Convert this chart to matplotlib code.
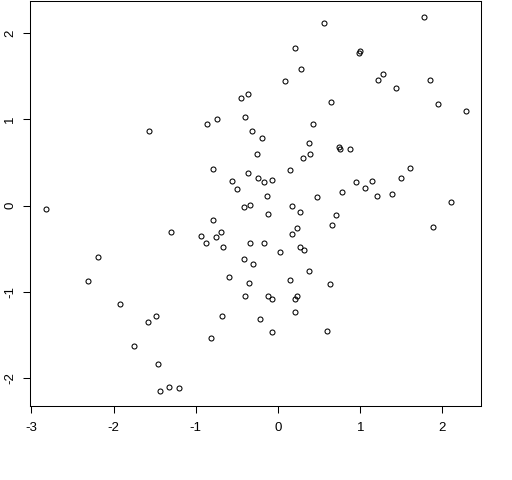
import matplotlib
matplotlib.use("Agg")
import matplotlib.pyplot as plt

# point values
x_vals = [-2.82, -2.19, -2.31, -1.92, -0.45, -0.36, -0.40, -0.86, -0.74, -1.57,
          -0.32, -0.79, -0.37, -0.56, -0.50, -0.41, -0.34, -0.79, -1.30, -0.94,
          -0.88, -0.75, -0.69, -0.34, -0.67, -0.42, -0.60, -0.35, -0.40, -1.48,
          -1.58, -0.68, -1.75, -0.81, -1.46, -1.44, -1.33, -1.21, 0.56, 0.21,
          0.99, 1.00, 0.28, 0.09, 0.65, 0.43, -0.20, 0.38, 0.74, 0.75,
          0.87, -0.26, 0.39, 0.30, 0.15, -0.24, -0.17, -0.07, 0.95, 0.78,
          1.06, 1.14, -0.13, 0.47, -0.12, 0.17, 0.27, 0.70, 0.66, 0.23,
          0.17, -0.17, 0.02, 0.27, 0.32, -0.30, 0.38, 0.15, 0.63, -0.12,
          -0.07, 0.21, 0.23, 0.21, -0.22, -0.07, 0.60, 1.77, 1.22, 1.28,
          1.85, 1.44, 1.94, 2.28, 1.60, 1.50, 1.20, 1.39, 2.10, 1.88]
y_vals = [-0.04, -0.60, -0.87, -1.14, 1.24, 1.29, 1.02, 0.95, 1.00, 0.86,
          0.86, 0.42, 0.38, 0.28, 0.19, -0.02, 0.01, -0.17, -0.31, -0.35,
          -0.43, -0.37, -0.31, -0.43, -0.48, -0.62, -0.83, -0.90, -1.05, -1.28,
          -1.35, -1.28, -1.63, -1.53, -1.84, -2.15, -2.10, -2.12, 2.11, 1.82,
          1.77, 1.79, 1.58, 1.44, 1.20, 0.95, 0.78, 0.73, 0.68, 0.66,
          0.65, 0.60, 0.60, 0.55, 0.41, 0.32, 0.27, 0.30, 0.27, 0.16,
          0.20, 0.28, 0.11, 0.10, -0.10, 0.00, -0.08, -0.11, -0.23, -0.26,
          -0.33, -0.43, -0.54, -0.48, -0.51, -0.68, -0.76, -0.86, -0.91, -1.05,
          -1.08, -1.08, -1.05, -1.23, -1.32, -1.46, -1.45, 2.19, 1.46, 1.52,
          1.46, 1.36, 1.18, 1.10, 0.44, 0.32, 0.11, 0.13, 0.04, -0.25]
x_ticks = [-3, -2, -1, 0, 1, 2]
y_ticks = [-2, -1, 0, 1, 2]

plt.rcParams['font.family'] = ['Liberation Sans', 'DejaVu Sans']
plt.rcParams['axes.unicode_minus'] = False

fig = plt.figure(figsize=(5.12, 4.8), dpi=100)
ax = fig.add_axes([0.0592, 0.1542, 0.881, 0.8427])

ax.plot(x_vals, y_vals, linestyle='none', marker='o', mfc='none',
        mec='black', ms=3.6, mew=0.75)

ax.set_xlim(-3.013, 2.473)
ax.set_ylim(-2.323, 2.364)
ax.set_xticks(x_ticks)
ax.set_yticks(y_ticks)

for sp in ax.spines.values():
    sp.set_linewidth(0.75)
    sp.set_color('black')

ax.tick_params(axis='both', length=5, width=0.75, labelsize=9.5, color='black')
ax.tick_params(axis='x', pad=6.5)
ax.tick_params(axis='y', pad=5)
for lbl in ax.get_yticklabels():
    lbl.set_rotation(90)
    lbl.set_va('center')

fig.savefig('out.png', dpi=100)
